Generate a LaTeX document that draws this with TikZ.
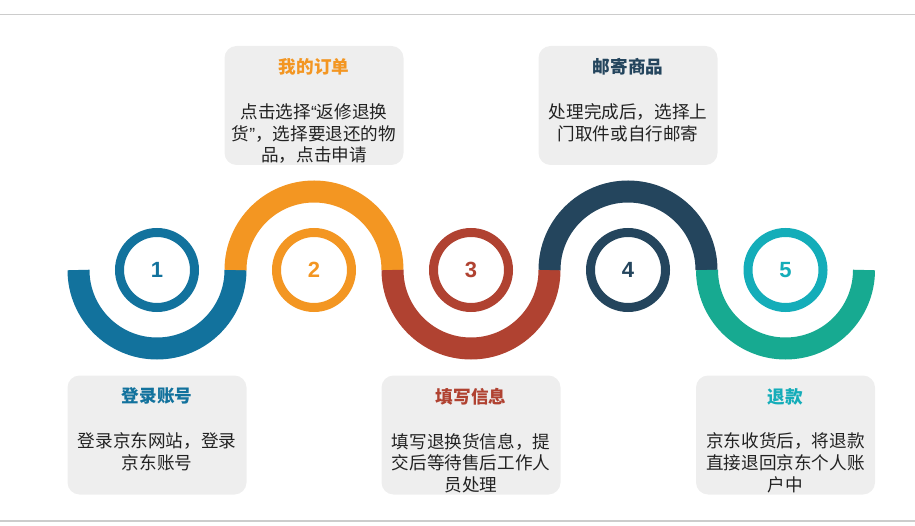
\documentclass[tikz,border=0pt]{standalone}
\usepackage{fontspec}
\setmainfont{Noto Sans CJK SC}
\newfontfamily\numfont{Liberation Sans}
\newfontfamily\quotefont{Liberation Sans}
\usetikzlibrary{positioning, calc}
\definecolor{cBlue}{HTML}{12729D}
\definecolor{cOrange}{HTML}{F39622}
\definecolor{cRed}{HTML}{B04231}
\definecolor{cNavy}{HTML}{24455D}
\definecolor{cGreen}{HTML}{17AA91}
\definecolor{cTeal}{HTML}{14ADB9}
\definecolor{cCard}{HTML}{EEEEEE}
\definecolor{cRule}{HTML}{CCCCCC}
\definecolor{cText}{HTML}{222222}

\begin{document}
\begin{tikzpicture}
		[x=1pt, y=1pt,
		 wave/.style={line width=22pt, line cap=butt},
		 ring/.style={circle, draw=#1, line width=9pt, minimum size=75pt, inner sep=0pt,
		 	text=#1, font=\numfont\bfseries\fontsize{22}{22}\selectfont},
		 card/.style={fill=cCard, rounded corners=12pt, minimum width=179pt, minimum height=119pt},
		 cardtext/.style={align=center, inner sep=0pt, text=cText,
		 	font=\fontsize{17.6}{21.8}\selectfont}]
		\useasboundingbox (0,0) rectangle (915,525);
		\draw[cRule, line width=1.3pt] (0,510.5) -- (915,510.5);
		\draw[cRule, line width=1.3pt] (0,4) -- (915,4);
	
		\node[ring=cBlue] (n1) at (157,255) {1};
		\node[ring=cOrange] (n2) at (314,255) {2};
		\node[ring=cRed] (n3) at (471,255) {3};
		\node[ring=cNavy] (n4) at (628,255) {4};
		\node[ring=cTeal] (n5) at (785.5,255) {5};
	
		\draw[wave, cBlue] ([xshift=-78.5pt]n1.center) arc[start angle=180, end angle=360, radius=78.5];
		\draw[wave, cOrange] ([xshift=-78.5pt]n2.center) arc[start angle=180, end angle=0, radius=78.5];
		\draw[wave, cRed] ([xshift=-78.5pt]n3.center) arc[start angle=180, end angle=360, radius=78.5];
		\draw[wave, cNavy] ([xshift=-78.5pt]n4.center) arc[start angle=180, end angle=0, radius=78.5];
		\draw[wave, cGreen] ([xshift=-78.5pt]n5.center) arc[start angle=180, end angle=360, radius=78.5];
	
		\node[card] (c1) at (157,90) {};
		\node[cardtext, below=12.5pt of c1.north] (t1) {{\bfseries\color{cBlue}登录账号}\\[23pt]
			登录京东网站，登录\\京东账号};
		\node[card] (c2) at (314,419.5) {};
		\node[cardtext, below=12.5pt of c2.north] (t2) {{\bfseries\color{cOrange}我的订单}\\[23pt]
			点击选择{\quotefont “}返修退换\\货{\quotefont ”}，选择要退还的物\\品，点击申请};
		\node[card] (c3) at (471,90) {};
		\node[cardtext, below=12.5pt of c3.north] (t3) {{\bfseries\color{cRed}填写信息}\\[23pt]
			填写退换货信息，提\\交后等待售后工作人\\员处理};
		\node[card] (c4) at (628,419.5) {};
		\node[cardtext, below=12.5pt of c4.north] (t4) {{\bfseries\color{cNavy}邮寄商品}\\[23pt]
			处理完成后，选择上\\门取件或自行邮寄};
		\node[card] (c5) at (785.5,90) {};
		\node[cardtext, below=12.5pt of c5.north] (t5) {{\bfseries\color{cTeal}退款}\\[23pt]
			京东收货后，将退款\\直接退回京东个人账\\户中};
	\end{tikzpicture}
\end{document}
